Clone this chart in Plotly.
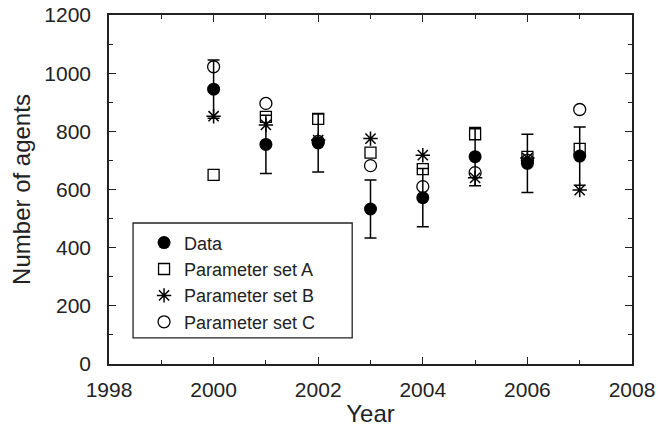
import plotly.graph_objects as go

years = [2000, 2001, 2002, 2003, 2004, 2005, 2006, 2007]
data_vals = [945, 755, 760, 533, 572, 713, 690, 715]
data_err = [100, 100, 100, 100, 100, 100, 100, 100]
set_a = [650, 850, 843, 727, 670, 790, 712, 740]
set_b = [852, 822, 770, 775, 718, 640, 708, 598]
set_c = [1022, 896, 765, 682, 610, 658, 700, 875]

FONT = "Liberation Sans, Arial, sans-serif"

fig = go.Figure()
fig.add_trace(go.Scatter(x=years, y=set_a, mode="markers", name="Parameter set A",
                         legendrank=2,
                         marker=dict(symbol="square-open", size=11, color="black",
                                     line=dict(width=1.3, color="black"))))
fig.add_trace(go.Scatter(x=years, y=set_b, mode="markers", name="Parameter set B",
                         legendrank=3,
                         marker=dict(symbol="asterisk-open", size=12, color="black",
                                     line=dict(width=1.5, color="black"))))
fig.add_trace(go.Scatter(x=years, y=set_c, mode="markers", name="Parameter set C",
                         legendrank=4,
                         marker=dict(symbol="circle-open", size=12, color="black",
                                     line=dict(width=1.3, color="black"))))
fig.add_trace(go.Scatter(x=years, y=data_vals, mode="markers", name="Data",
                         legendrank=1,
                         error_y=dict(type="data", array=data_err, visible=True,
                                      color="black", thickness=1.5, width=6),
                         marker=dict(symbol="circle", size=13, color="black")))

# legend frame (drawn as a shape so its size matches the original box)
fig.add_shape(type="rect", xref="paper", yref="paper",
              x0=0.046, x1=0.465, y0=0.075, y1=0.404,
              line=dict(color="#222", width=1.3), fillcolor="white", layer="below")

fig.update_layout(
    width=658, height=427,
    margin=dict(l=109, r=26, t=15, b=63),
    paper_bgcolor="white", plot_bgcolor="white",
    font=dict(family=FONT, size=20, color="#222"),
    showlegend=True,
    legend=dict(x=0.067, y=0.40, xanchor="left", yanchor="top",
                borderwidth=0, bgcolor="rgba(0,0,0,0)",
                font=dict(size=18, family=FONT), itemwidth=30,
                tracegroupgap=0),
)
fig.update_xaxes(range=[1998, 2008], dtick=2, tick0=1998, ticks="inside", ticklen=7,
                 tickwidth=1.3, tickcolor="#222", ticklabelstandoff=6, automargin=False,
                 minor=dict(dtick=1, tick0=1998, ticks="inside", ticklen=4, tickwidth=1.3, tickcolor="#222"),
                 showline=True, linecolor="#222", linewidth=1.5, mirror="ticks",
                 showgrid=False, zeroline=False,
                 title=dict(text="Year", font=dict(size=24, family=FONT), standoff=12),
                 tickfont=dict(size=21, family=FONT))
fig.update_yaxes(range=[0, 1200], dtick=200, ticks="inside", ticklen=7,
                 tickwidth=1.3, tickcolor="#222", ticklabelstandoff=12, automargin=False,
                 minor=dict(dtick=100, ticks="inside", ticklen=4, tickwidth=1.3, tickcolor="#222"),
                 showline=True, linecolor="#222", linewidth=1.5, mirror="ticks",
                 showgrid=False, zeroline=False,
                 title=dict(text="Number of agents", font=dict(size=24, family=FONT), standoff=7),
                 tickfont=dict(size=21, family=FONT))

fig.write_html("out.html", config={"displayModeBar": False},
               post_script="document.body.style.margin='0px';document.body.style.overflow='hidden';")
